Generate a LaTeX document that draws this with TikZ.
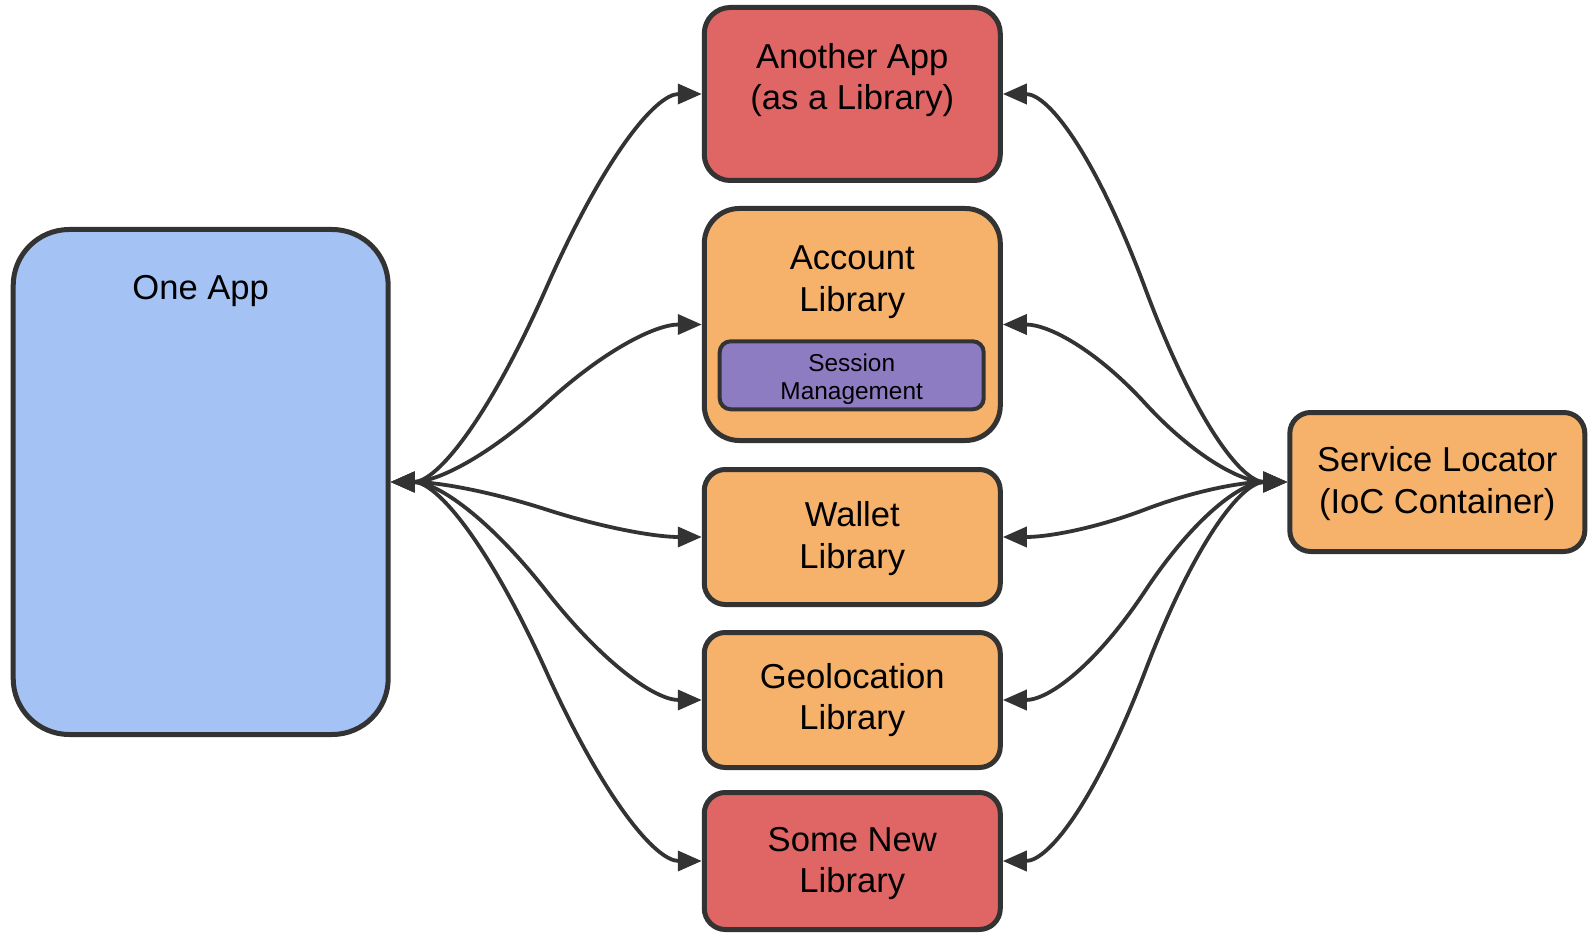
\documentclass[tikz,border=0pt]{standalone}
\usepackage{fontspec}
\setmainfont{Liberation Sans}
\usetikzlibrary{arrows.meta,calc}
\definecolor{appblue}{HTML}{A4C2F4}
\definecolor{liborange}{HTML}{F6B26B}
\definecolor{libred}{HTML}{E06666}
\definecolor{sesspurple}{HTML}{8E7CC3}
\definecolor{strokegray}{HTML}{333333}
\begin{document}
\begin{tikzpicture}[x=1pt,y=-1pt,
  box/.style={draw=strokegray, line width=5pt, rectangle, inner sep=0pt},
  bigtext/.style={font=\fontsize{34.6}{41.7}\selectfont, align=center, text=black, inner sep=0pt},
  smalltext/.style={font=\fontsize{24.4}{27.7}\selectfont, align=center, text=black, inner sep=0pt},
  link/.style={draw=strokegray, line width=3.8pt, {Triangle[length=24pt,width=20pt]}-{Triangle[length=24pt,width=20pt]}}]
\useasboundingbox (0,0) rectangle (1591,933);

% boxes
\node[box, fill=appblue, minimum width=375pt, minimum height=505pt, rounded corners=56pt] (oneapp) at (200.7,482) {};
\node[box, fill=libred, minimum width=296pt, minimum height=173pt, rounded corners=26pt] (another) at (852.3,94) {};
\node[box, fill=liborange, minimum width=296pt, minimum height=232pt, rounded corners=35pt] (account) at (852.3,324.5) {};
\node[box, fill=sesspurple, line width=4pt, minimum width=264pt, minimum height=68pt, rounded corners=11pt] (session) at (851.7,375.3) {};
\node[box, fill=liborange, minimum width=296pt, minimum height=135pt, rounded corners=21pt] (wallet) at (852.3,537) {};
\node[box, fill=liborange, minimum width=296pt, minimum height=135pt, rounded corners=21pt] (geo) at (852.3,700) {};
\node[box, fill=libred, minimum width=296pt, minimum height=137pt, rounded corners=21pt] (some) at (852.3,861) {};
\node[box, fill=liborange, minimum width=295pt, minimum height=139pt, rounded corners=21pt] (service) at (1437.3,482) {};

% texts
\node[bigtext] (toneapp) at (200.7,291) {One App};
\node[bigtext] (tanother) at (852.3,80) {Another App\\(as a Library)};
\node[bigtext] (taccount) at (852.3,282) {Account\\Library};
\node[smalltext] (tsession) at (851.7,379) {Session\\Management};
\node[bigtext] (twallet) at (852.3,538.5) {Wallet\\Library};
\node[bigtext] (tgeo) at (852.3,700) {Geolocation\\Library};
\node[bigtext] (tsome) at (852.3,863.5) {Some New\\Library};
\node[bigtext] (tservice) at (1437.3,483.5) {Service Locator\\(IoC Container)};

% connectors from One App
\foreach \t in {another,account,wallet,geo,some} {
  \coordinate (s) at (oneapp.east);
  \coordinate (e) at (\t.west);
  \coordinate (p1) at ($(s)+(70,0)$);
  \coordinate (p2) at ($(e)+(-70,0)$);
  \coordinate (m) at ($(p1)!0.5!(p2)$);
  \draw[link] (s) .. controls ($(s)!2/3!(p1)$) and ($(m)!2/3!(p1)$) .. (m)
              .. controls ($(m)!2/3!(p2)$) and ($(e)!2/3!(p2)$) .. (e);
}
% connectors from Service Locator
\foreach \t in {another,account,wallet,geo,some} {
  \coordinate (s) at (service.west);
  \coordinate (e) at (\t.east);
  \coordinate (p1) at ($(s)+(-70,0)$);
  \coordinate (p2) at ($(e)+(70,0)$);
  \coordinate (m) at ($(p1)!0.5!(p2)$);
  \draw[link] (s) .. controls ($(s)!2/3!(p1)$) and ($(m)!2/3!(p1)$) .. (m)
              .. controls ($(m)!2/3!(p2)$) and ($(e)!2/3!(p2)$) .. (e);
}
\end{tikzpicture}
\end{document}
